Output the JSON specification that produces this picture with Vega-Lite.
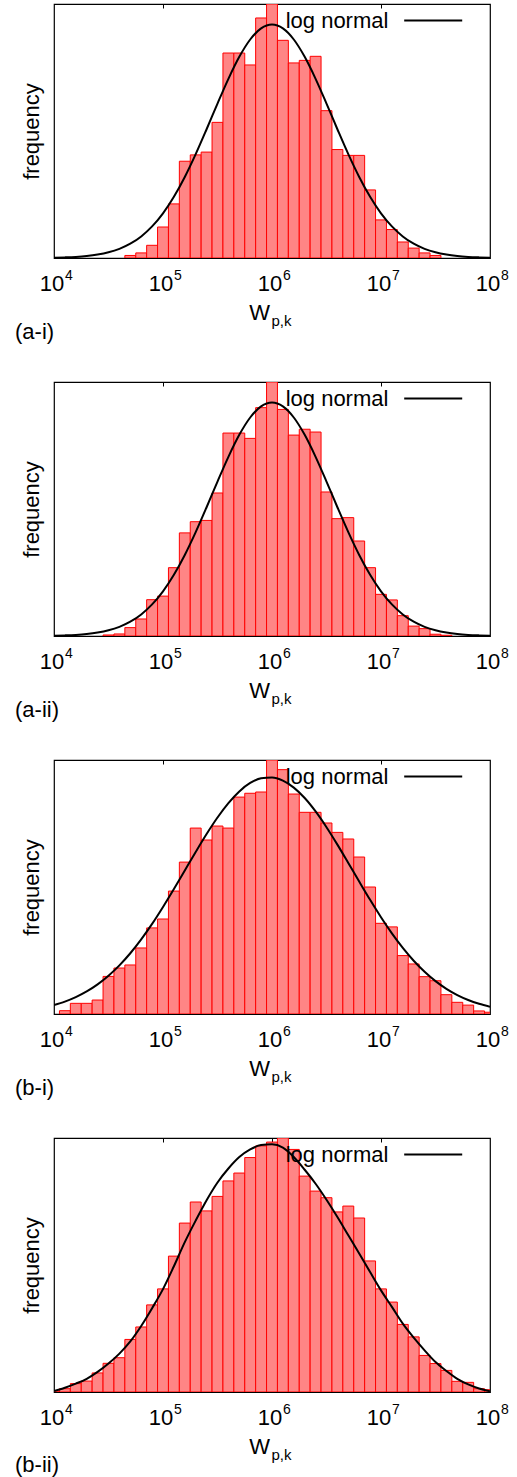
{
  "$schema": "https://vega.github.io/schema/vega-lite/v6.json",
  "padding": {"left": 14, "top": 2, "right": 0, "bottom": 0},
  "spacing": 36,
  "datasets": {
    "bars": [
      {"panel":"a-i","lo":4.65,"hi":4.75,"f":1.0},{"panel":"a-i","lo":4.75,"hi":4.85,"f":2.0},{"panel":"a-i","lo":4.85,"hi":4.95,"f":5.0},{"panel":"a-i","lo":4.95,"hi":5.05,"f":12.2},{"panel":"a-i","lo":5.05,"hi":5.15,"f":21.3},{"panel":"a-i","lo":5.15,"hi":5.25,"f":38.1},{"panel":"a-i","lo":5.25,"hi":5.35,"f":40.6},{"panel":"a-i","lo":5.35,"hi":5.45,"f":41.7},{"panel":"a-i","lo":5.45,"hi":5.55,"f":53.4},{"panel":"a-i","lo":5.55,"hi":5.65,"f":80.7},{"panel":"a-i","lo":5.65,"hi":5.75,"f":80.7},{"panel":"a-i","lo":5.75,"hi":5.85,"f":76.0},{"panel":"a-i","lo":5.85,"hi":5.95,"f":94.5},{"panel":"a-i","lo":5.95,"hi":6.05,"f":100},{"panel":"a-i","lo":6.05,"hi":6.15,"f":85.7},{"panel":"a-i","lo":6.15,"hi":6.25,"f":76.8},{"panel":"a-i","lo":6.25,"hi":6.35,"f":77.8},{"panel":"a-i","lo":6.35,"hi":6.45,"f":79.4},{"panel":"a-i","lo":6.45,"hi":6.55,"f":58.0},{"panel":"a-i","lo":6.55,"hi":6.65,"f":42.7},{"panel":"a-i","lo":6.65,"hi":6.75,"f":40.4},{"panel":"a-i","lo":6.75,"hi":6.85,"f":40.4},{"panel":"a-i","lo":6.85,"hi":6.95,"f":26.8},{"panel":"a-i","lo":6.95,"hi":7.05,"f":15.0},{"panel":"a-i","lo":7.05,"hi":7.15,"f":11.2},{"panel":"a-i","lo":7.15,"hi":7.25,"f":6.3},{"panel":"a-i","lo":7.25,"hi":7.35,"f":3.9},{"panel":"a-i","lo":7.35,"hi":7.45,"f":2.0},{"panel":"a-i","lo":7.45,"hi":7.55,"f":1.0},
      {"panel":"a-ii","lo":4.45,"hi":4.55,"f":0.4},{"panel":"a-ii","lo":4.55,"hi":4.65,"f":0.8},{"panel":"a-ii","lo":4.65,"hi":4.75,"f":3.3},{"panel":"a-ii","lo":4.75,"hi":4.85,"f":6.7},{"panel":"a-ii","lo":4.85,"hi":4.95,"f":14.3},{"panel":"a-ii","lo":4.95,"hi":5.05,"f":15.7},{"panel":"a-ii","lo":5.05,"hi":5.15,"f":26.9},{"panel":"a-ii","lo":5.15,"hi":5.25,"f":40.6},{"panel":"a-ii","lo":5.25,"hi":5.35,"f":45.0},{"panel":"a-ii","lo":5.35,"hi":5.45,"f":45.5},{"panel":"a-ii","lo":5.45,"hi":5.55,"f":56.3},{"panel":"a-ii","lo":5.55,"hi":5.65,"f":79.9},{"panel":"a-ii","lo":5.65,"hi":5.75,"f":79.9},{"panel":"a-ii","lo":5.75,"hi":5.85,"f":77.8},{"panel":"a-ii","lo":5.85,"hi":5.95,"f":89.9},{"panel":"a-ii","lo":5.95,"hi":6.05,"f":100},{"panel":"a-ii","lo":6.05,"hi":6.15,"f":89.2},{"panel":"a-ii","lo":6.15,"hi":6.25,"f":79.1},{"panel":"a-ii","lo":6.25,"hi":6.35,"f":81.4},{"panel":"a-ii","lo":6.35,"hi":6.45,"f":80.3},{"panel":"a-ii","lo":6.45,"hi":6.55,"f":56.7},{"panel":"a-ii","lo":6.55,"hi":6.65,"f":46.2},{"panel":"a-ii","lo":6.65,"hi":6.75,"f":46.6},{"panel":"a-ii","lo":6.75,"hi":6.85,"f":37.4},{"panel":"a-ii","lo":6.85,"hi":6.95,"f":26.9},{"panel":"a-ii","lo":6.95,"hi":7.05,"f":16.4},{"panel":"a-ii","lo":7.05,"hi":7.15,"f":14.2},{"panel":"a-ii","lo":7.15,"hi":7.25,"f":8.0},{"panel":"a-ii","lo":7.25,"hi":7.35,"f":3.9},{"panel":"a-ii","lo":7.35,"hi":7.45,"f":2.9},{"panel":"a-ii","lo":7.45,"hi":7.55,"f":0.7},{"panel":"a-ii","lo":7.55,"hi":7.65,"f":0.3},
      {"panel":"b-i","lo":4.05,"hi":4.15,"f":1.3},{"panel":"b-i","lo":4.15,"hi":4.25,"f":4.2},{"panel":"b-i","lo":4.25,"hi":4.35,"f":4.2},{"panel":"b-i","lo":4.35,"hi":4.45,"f":5.5},{"panel":"b-i","lo":4.45,"hi":4.55,"f":14.8},{"panel":"b-i","lo":4.55,"hi":4.65,"f":18.1},{"panel":"b-i","lo":4.65,"hi":4.75,"f":19.3},{"panel":"b-i","lo":4.75,"hi":4.85,"f":26.0},{"panel":"b-i","lo":4.85,"hi":4.95,"f":33.9},{"panel":"b-i","lo":4.95,"hi":5.05,"f":37.4},{"panel":"b-i","lo":5.05,"hi":5.15,"f":48.4},{"panel":"b-i","lo":5.15,"hi":5.25,"f":59.8},{"panel":"b-i","lo":5.25,"hi":5.35,"f":73.2},{"panel":"b-i","lo":5.35,"hi":5.45,"f":68.5},{"panel":"b-i","lo":5.45,"hi":5.55,"f":74.0},{"panel":"b-i","lo":5.55,"hi":5.65,"f":73.2},{"panel":"b-i","lo":5.65,"hi":5.75,"f":85.4},{"panel":"b-i","lo":5.75,"hi":5.85,"f":86.9},{"panel":"b-i","lo":5.85,"hi":5.95,"f":87.4},{"panel":"b-i","lo":5.95,"hi":6.05,"f":100},{"panel":"b-i","lo":6.05,"hi":6.15,"f":96.2},{"panel":"b-i","lo":6.15,"hi":6.25,"f":86.6},{"panel":"b-i","lo":6.25,"hi":6.35,"f":79.4},{"panel":"b-i","lo":6.35,"hi":6.45,"f":79.4},{"panel":"b-i","lo":6.45,"hi":6.55,"f":75.2},{"panel":"b-i","lo":6.55,"hi":6.65,"f":71.5},{"panel":"b-i","lo":6.65,"hi":6.75,"f":68.9},{"panel":"b-i","lo":6.75,"hi":6.85,"f":61.8},{"panel":"b-i","lo":6.85,"hi":6.95,"f":50.0},{"panel":"b-i","lo":6.95,"hi":7.05,"f":35.7},{"panel":"b-i","lo":7.05,"hi":7.15,"f":34.3},{"panel":"b-i","lo":7.15,"hi":7.25,"f":23.0},{"panel":"b-i","lo":7.25,"hi":7.35,"f":19.7},{"panel":"b-i","lo":7.35,"hi":7.45,"f":14.7},{"panel":"b-i","lo":7.45,"hi":7.55,"f":13.1},{"panel":"b-i","lo":7.55,"hi":7.65,"f":7.6},{"panel":"b-i","lo":7.65,"hi":7.75,"f":4.6},{"panel":"b-i","lo":7.75,"hi":7.85,"f":3.5},{"panel":"b-i","lo":7.85,"hi":7.95,"f":1.2},{"panel":"b-i","lo":7.95,"hi":8.05,"f":0.7},
      {"panel":"b-ii","lo":3.95,"hi":4.05,"f":0.4},{"panel":"b-ii","lo":4.05,"hi":4.15,"f":1.3},{"panel":"b-ii","lo":4.15,"hi":4.25,"f":3.3},{"panel":"b-ii","lo":4.25,"hi":4.35,"f":4.3},{"panel":"b-ii","lo":4.35,"hi":4.45,"f":7.5},{"panel":"b-ii","lo":4.45,"hi":4.55,"f":11.3},{"panel":"b-ii","lo":4.55,"hi":4.65,"f":13.5},{"panel":"b-ii","lo":4.65,"hi":4.75,"f":20.7},{"panel":"b-ii","lo":4.75,"hi":4.85,"f":25.6},{"panel":"b-ii","lo":4.85,"hi":4.95,"f":34.3},{"panel":"b-ii","lo":4.95,"hi":5.05,"f":40.6},{"panel":"b-ii","lo":5.05,"hi":5.15,"f":53.5},{"panel":"b-ii","lo":5.15,"hi":5.25,"f":66.5},{"panel":"b-ii","lo":5.25,"hi":5.35,"f":74.8},{"panel":"b-ii","lo":5.35,"hi":5.45,"f":71.3},{"panel":"b-ii","lo":5.45,"hi":5.55,"f":77.0},{"panel":"b-ii","lo":5.55,"hi":5.65,"f":83.1},{"panel":"b-ii","lo":5.65,"hi":5.75,"f":86.2},{"panel":"b-ii","lo":5.75,"hi":5.85,"f":92.3},{"panel":"b-ii","lo":5.85,"hi":5.95,"f":96.9},{"panel":"b-ii","lo":5.95,"hi":6.05,"f":98.4},{"panel":"b-ii","lo":6.05,"hi":6.15,"f":100},{"panel":"b-ii","lo":6.15,"hi":6.25,"f":95.5},{"panel":"b-ii","lo":6.25,"hi":6.35,"f":85.0},{"panel":"b-ii","lo":6.35,"hi":6.45,"f":79.1},{"panel":"b-ii","lo":6.45,"hi":6.55,"f":76.5},{"panel":"b-ii","lo":6.55,"hi":6.65,"f":70.9},{"panel":"b-ii","lo":6.65,"hi":6.75,"f":73.2},{"panel":"b-ii","lo":6.75,"hi":6.85,"f":68.5},{"panel":"b-ii","lo":6.85,"hi":6.95,"f":51.6},{"panel":"b-ii","lo":6.95,"hi":7.05,"f":40.6},{"panel":"b-ii","lo":7.05,"hi":7.15,"f":35.4},{"panel":"b-ii","lo":7.15,"hi":7.25,"f":26.6},{"panel":"b-ii","lo":7.25,"hi":7.35,"f":21.7},{"panel":"b-ii","lo":7.35,"hi":7.45,"f":14.4},{"panel":"b-ii","lo":7.45,"hi":7.55,"f":11.2},{"panel":"b-ii","lo":7.55,"hi":7.65,"f":8.5},{"panel":"b-ii","lo":7.65,"hi":7.75,"f":4.2},{"panel":"b-ii","lo":7.75,"hi":7.85,"f":3.8},{"panel":"b-ii","lo":7.85,"hi":7.95,"f":1.3},{"panel":"b-ii","lo":7.95,"hi":8.05,"f":0.9}
    ],
    "curve": [
      {"panel":"a-i","x":4.0,"f":0.12},{"panel":"a-i","x":4.1,"f":0.24},{"panel":"a-i","x":4.2,"f":0.43},{"panel":"a-i","x":4.3,"f":0.77},{"panel":"a-i","x":4.4,"f":1.34},{"panel":"a-i","x":4.5,"f":2.23},{"panel":"a-i","x":4.6,"f":3.6},{"panel":"a-i","x":4.7,"f":5.62},{"panel":"a-i","x":4.8,"f":8.5},{"panel":"a-i","x":4.9,"f":12.44},{"panel":"a-i","x":5.0,"f":17.6},{"panel":"a-i","x":5.1,"f":24.1},{"panel":"a-i","x":5.2,"f":31.91},{"panel":"a-i","x":5.3,"f":40.89},{"panel":"a-i","x":5.4,"f":50.69},{"panel":"a-i","x":5.5,"f":60.79},{"panel":"a-i","x":5.6,"f":70.54},{"panel":"a-i","x":5.7,"f":79.2},{"panel":"a-i","x":5.8,"f":86.02},{"panel":"a-i","x":5.9,"f":90.39},{"panel":"a-i","x":6.0,"f":91.9},{"panel":"a-i","x":6.1,"f":90.39},{"panel":"a-i","x":6.2,"f":86.02},{"panel":"a-i","x":6.3,"f":79.2},{"panel":"a-i","x":6.4,"f":70.54},{"panel":"a-i","x":6.5,"f":60.79},{"panel":"a-i","x":6.6,"f":50.69},{"panel":"a-i","x":6.7,"f":40.89},{"panel":"a-i","x":6.8,"f":31.91},{"panel":"a-i","x":6.9,"f":24.1},{"panel":"a-i","x":7.0,"f":17.6},{"panel":"a-i","x":7.1,"f":12.44},{"panel":"a-i","x":7.2,"f":8.5},{"panel":"a-i","x":7.3,"f":5.62},{"panel":"a-i","x":7.4,"f":3.6},{"panel":"a-i","x":7.5,"f":2.23},{"panel":"a-i","x":7.6,"f":1.34},{"panel":"a-i","x":7.7,"f":0.77},{"panel":"a-i","x":7.8,"f":0.43},{"panel":"a-i","x":7.9,"f":0.24},{"panel":"a-i","x":8.0,"f":0.12},
      {"panel":"a-ii","x":4.0,"f":0.12},{"panel":"a-ii","x":4.1,"f":0.24},{"panel":"a-ii","x":4.2,"f":0.43},{"panel":"a-ii","x":4.3,"f":0.77},{"panel":"a-ii","x":4.4,"f":1.34},{"panel":"a-ii","x":4.5,"f":2.23},{"panel":"a-ii","x":4.6,"f":3.6},{"panel":"a-ii","x":4.7,"f":5.62},{"panel":"a-ii","x":4.8,"f":8.5},{"panel":"a-ii","x":4.9,"f":12.44},{"panel":"a-ii","x":5.0,"f":17.6},{"panel":"a-ii","x":5.1,"f":24.1},{"panel":"a-ii","x":5.2,"f":31.91},{"panel":"a-ii","x":5.3,"f":40.89},{"panel":"a-ii","x":5.4,"f":50.69},{"panel":"a-ii","x":5.5,"f":60.79},{"panel":"a-ii","x":5.6,"f":70.54},{"panel":"a-ii","x":5.7,"f":79.2},{"panel":"a-ii","x":5.8,"f":86.02},{"panel":"a-ii","x":5.9,"f":90.39},{"panel":"a-ii","x":6.0,"f":91.9},{"panel":"a-ii","x":6.1,"f":90.39},{"panel":"a-ii","x":6.2,"f":86.02},{"panel":"a-ii","x":6.3,"f":79.2},{"panel":"a-ii","x":6.4,"f":70.54},{"panel":"a-ii","x":6.5,"f":60.79},{"panel":"a-ii","x":6.6,"f":50.69},{"panel":"a-ii","x":6.7,"f":40.89},{"panel":"a-ii","x":6.8,"f":31.91},{"panel":"a-ii","x":6.9,"f":24.1},{"panel":"a-ii","x":7.0,"f":17.6},{"panel":"a-ii","x":7.1,"f":12.44},{"panel":"a-ii","x":7.2,"f":8.5},{"panel":"a-ii","x":7.3,"f":5.62},{"panel":"a-ii","x":7.4,"f":3.6},{"panel":"a-ii","x":7.5,"f":2.23},{"panel":"a-ii","x":7.6,"f":1.34},{"panel":"a-ii","x":7.7,"f":0.77},{"panel":"a-ii","x":7.8,"f":0.43},{"panel":"a-ii","x":7.9,"f":0.24},{"panel":"a-ii","x":8.0,"f":0.12},
      {"panel":"b-i","x":4.0,"f":3.54},{"panel":"b-i","x":4.1,"f":4.88},{"panel":"b-i","x":4.2,"f":6.64},{"panel":"b-i","x":4.3,"f":8.87},{"panel":"b-i","x":4.4,"f":11.66},{"panel":"b-i","x":4.5,"f":15.07},{"panel":"b-i","x":4.6,"f":19.14},{"panel":"b-i","x":4.7,"f":23.92},{"panel":"b-i","x":4.8,"f":29.39},{"panel":"b-i","x":4.9,"f":35.49},{"panel":"b-i","x":5.0,"f":42.16},{"panel":"b-i","x":5.1,"f":49.23},{"panel":"b-i","x":5.2,"f":56.53},{"panel":"b-i","x":5.3,"f":63.82},{"panel":"b-i","x":5.4,"f":70.87},{"panel":"b-i","x":5.5,"f":77.36},{"panel":"b-i","x":5.6,"f":83.03},{"panel":"b-i","x":5.7,"f":87.64},{"panel":"b-i","x":5.8,"f":90.96},{"panel":"b-i","x":5.9,"f":92.82},{"panel":"b-i","x":6.0,"f":93.13},{"panel":"b-i","x":6.1,"f":91.88},{"panel":"b-i","x":6.2,"f":89.13},{"panel":"b-i","x":6.3,"f":85.03},{"panel":"b-i","x":6.4,"f":79.74},{"panel":"b-i","x":6.5,"f":73.54},{"panel":"b-i","x":6.6,"f":66.69},{"panel":"b-i","x":6.7,"f":59.46},{"panel":"b-i","x":6.8,"f":52.14},{"panel":"b-i","x":6.9,"f":44.94},{"panel":"b-i","x":7.0,"f":38.09},{"panel":"b-i","x":7.1,"f":31.75},{"panel":"b-i","x":7.2,"f":26.02},{"panel":"b-i","x":7.3,"f":20.97},{"panel":"b-i","x":7.4,"f":16.62},{"panel":"b-i","x":7.5,"f":12.95},{"panel":"b-i","x":7.6,"f":9.92},{"panel":"b-i","x":7.7,"f":7.47},{"panel":"b-i","x":7.8,"f":5.53},{"panel":"b-i","x":7.9,"f":4.03},{"panel":"b-i","x":8.0,"f":2.89},
      {"panel":"b-ii","x":4.0,"f":0.4},{"panel":"b-ii","x":4.1,"f":1.7},{"panel":"b-ii","x":4.2,"f":3.3},{"panel":"b-ii","x":4.3,"f":5.2},{"panel":"b-ii","x":4.4,"f":7.9},{"panel":"b-ii","x":4.5,"f":11.2},{"panel":"b-ii","x":4.6,"f":15.1},{"panel":"b-ii","x":4.7,"f":19.9},{"panel":"b-ii","x":4.8,"f":26.0},{"panel":"b-ii","x":4.9,"f":33.0},{"panel":"b-ii","x":5.0,"f":40.5},{"panel":"b-ii","x":5.1,"f":49.5},{"panel":"b-ii","x":5.2,"f":59.0},{"panel":"b-ii","x":5.3,"f":67.5},{"panel":"b-ii","x":5.4,"f":75.5},{"panel":"b-ii","x":5.5,"f":82.5},{"panel":"b-ii","x":5.6,"f":88.0},{"panel":"b-ii","x":5.7,"f":92.5},{"panel":"b-ii","x":5.8,"f":95.5},{"panel":"b-ii","x":5.9,"f":97.2},{"panel":"b-ii","x":6.0,"f":97.5},{"panel":"b-ii","x":6.1,"f":96.2},{"panel":"b-ii","x":6.2,"f":92.5},{"panel":"b-ii","x":6.3,"f":87.5},{"panel":"b-ii","x":6.4,"f":82.0},{"panel":"b-ii","x":6.5,"f":75.7},{"panel":"b-ii","x":6.6,"f":68.9},{"panel":"b-ii","x":6.7,"f":61.7},{"panel":"b-ii","x":6.8,"f":54.5},{"panel":"b-ii","x":6.9,"f":47.2},{"panel":"b-ii","x":7.0,"f":40.0},{"panel":"b-ii","x":7.1,"f":33.5},{"panel":"b-ii","x":7.2,"f":26.9},{"panel":"b-ii","x":7.3,"f":21.4},{"panel":"b-ii","x":7.4,"f":16.4},{"panel":"b-ii","x":7.5,"f":11.8},{"panel":"b-ii","x":7.6,"f":8.3},{"panel":"b-ii","x":7.7,"f":5.2},{"panel":"b-ii","x":7.8,"f":3.0},{"panel":"b-ii","x":7.9,"f":1.4},{"panel":"b-ii","x":8.0,"f":0.3}
    ]
  },
  "vconcat": [
    {
      "width": 436, "height": 254,
      "title": {"text": "(a-i)", "orient": "bottom", "anchor": "start", "frame": "group", "dx": -39, "offset": -6},
      "layer": [
        {"data": {"name": "bars"}, "transform": [{"filter": "datum.panel === 'a-i'"}],
         "mark": {"type": "bar", "fill": "#ff8585", "stroke": "#ff0000", "strokeWidth": 1, "clip": true},
         "encoding": {
           "x": {"field": "lo", "type": "quantitative", "scale": {"domain": [4, 8], "nice": false, "zero": false},
                 "axis": {"orient": "bottom", "values": [4,5,6,7,8], "labelExpr": "'10'", "labelFontSize": 22, "labelPadding": 15, "labelOffset": -2.5, "labelBaseline": "top", "labelFlush": false, "labelOverlap": false, "title": "W", "titleFontSize": 22, "titleX": 205, "titleY": 61.5, "titleAlign": "center", "titleBaseline": "alphabetic"}},
           "x2": {"field": "hi"},
           "y": {"field": "f", "type": "quantitative", "scale": {"domain": [0, 100], "nice": false}, "axis": {"title": "frequency", "labels": false, "titleFontSize": 22, "titlePadding": 11}},
           "y2": {"datum": 0}
         }},
        {"data": {"name": "curve"}, "transform": [{"filter": "datum.panel === 'a-i'"}],
         "mark": {"type": "line", "interpolate": "monotone", "strokeWidth": 2, "clip": true},
         "encoding": {
           "x": {"field": "x", "type": "quantitative", "scale": {"domain": [4, 8], "nice": false, "zero": false},
                 "axis": {"orient": "bottom", "values": [4,5,6,7,8], "format": "d", "labelFontSize": 14, "labelPadding": 10, "labelOffset": 14.5, "labelBaseline": "top", "labelFlush": false, "labelOverlap": false, "title": "p,k", "titleFontSize": 15, "titleX": 227, "titleY": 67, "titleAlign": "center", "titleBaseline": "alphabetic"}},
           "y": {"field": "f", "type": "quantitative", "scale": {"domain": [0, 100], "nice": false}, "axis": {"title": "frequency", "labels": false, "titleFontSize": 22, "titlePadding": 11}},
           "stroke": {"datum": "log normal", "type": "nominal", "scale": {"range": ["#000000"]},
                      "legend": {"title": null, "orient": "none", "legendX": 368.2, "legendY": 5.5, "padding": 0, "symbolType": "M-5,0H5", "symbolSize": 134.6, "symbolStrokeWidth": 2, "symbolStrokeColor": "#000", "symbolFillColor": "transparent", "labelAlign": "right", "labelOffset": -55.8, "labelFontSize": 22, "labelFont": "Liberation Sans", "labelColor": "#000", "labelBaseline": "middle"}}
         }},
        {"data": {"name": "curve"}, "transform": [{"filter": "datum.panel === 'a-i'"}],
         "mark": {"type": "rule", "opacity": 0},
         "encoding": {
           "x": {"field": "x", "type": "quantitative", "scale": {"domain": [4, 8], "nice": false, "zero": false},
                 "axis": {"orient": "top", "values": [5,6,7], "labels": false, "ticks": true, "tickSize": -4, "tickColor": "#000", "tickWidth": 1, "title": null}}
         }}
      ],
      "resolve": {"axis": {"x": "independent"}}
    },
    {
      "width": 436, "height": 254,
      "title": {"text": "(a-ii)", "orient": "bottom", "anchor": "start", "frame": "group", "dx": -39, "offset": -6},
      "layer": [
        {"data": {"name": "bars"}, "transform": [{"filter": "datum.panel === 'a-ii'"}],
         "mark": {"type": "bar", "fill": "#ff8585", "stroke": "#ff0000", "strokeWidth": 1, "clip": true},
         "encoding": {
           "x": {"field": "lo", "type": "quantitative", "scale": {"domain": [4, 8], "nice": false, "zero": false},
                 "axis": {"orient": "bottom", "values": [4,5,6,7,8], "labelExpr": "'10'", "labelFontSize": 22, "labelPadding": 15, "labelOffset": -2.5, "labelBaseline": "top", "labelFlush": false, "labelOverlap": false, "title": "W", "titleFontSize": 22, "titleX": 205, "titleY": 61.5, "titleAlign": "center", "titleBaseline": "alphabetic"}},
           "x2": {"field": "hi"},
           "y": {"field": "f", "type": "quantitative", "scale": {"domain": [0, 100], "nice": false}, "axis": {"title": "frequency", "labels": false, "titleFontSize": 22, "titlePadding": 11}},
           "y2": {"datum": 0}
         }},
        {"data": {"name": "curve"}, "transform": [{"filter": "datum.panel === 'a-ii'"}],
         "mark": {"type": "line", "interpolate": "monotone", "strokeWidth": 2, "clip": true},
         "encoding": {
           "x": {"field": "x", "type": "quantitative", "scale": {"domain": [4, 8], "nice": false, "zero": false},
                 "axis": {"orient": "bottom", "values": [4,5,6,7,8], "format": "d", "labelFontSize": 14, "labelPadding": 10, "labelOffset": 14.5, "labelBaseline": "top", "labelFlush": false, "labelOverlap": false, "title": "p,k", "titleFontSize": 15, "titleX": 227, "titleY": 67, "titleAlign": "center", "titleBaseline": "alphabetic"}},
           "y": {"field": "f", "type": "quantitative", "scale": {"domain": [0, 100], "nice": false}, "axis": {"title": "frequency", "labels": false, "titleFontSize": 22, "titlePadding": 11}},
           "stroke": {"datum": "log normal", "type": "nominal", "scale": {"range": ["#000000"]},
                      "legend": {"title": null, "orient": "none", "legendX": 368.2, "legendY": 5.5, "padding": 0, "symbolType": "M-5,0H5", "symbolSize": 134.6, "symbolStrokeWidth": 2, "symbolStrokeColor": "#000", "symbolFillColor": "transparent", "labelAlign": "right", "labelOffset": -55.8, "labelFontSize": 22, "labelFont": "Liberation Sans", "labelColor": "#000", "labelBaseline": "middle"}}
         }},
        {"data": {"name": "curve"}, "transform": [{"filter": "datum.panel === 'a-ii'"}],
         "mark": {"type": "rule", "opacity": 0},
         "encoding": {
           "x": {"field": "x", "type": "quantitative", "scale": {"domain": [4, 8], "nice": false, "zero": false},
                 "axis": {"orient": "top", "values": [5,6,7], "labels": false, "ticks": true, "tickSize": -4, "tickColor": "#000", "tickWidth": 1, "title": null}}
         }}
      ],
      "resolve": {"axis": {"x": "independent"}}
    },
    {
      "width": 436, "height": 254,
      "title": {"text": "(b-i)", "orient": "bottom", "anchor": "start", "frame": "group", "dx": -39, "offset": -6},
      "layer": [
        {"data": {"name": "bars"}, "transform": [{"filter": "datum.panel === 'b-i'"}],
         "mark": {"type": "bar", "fill": "#ff8585", "stroke": "#ff0000", "strokeWidth": 1, "clip": true},
         "encoding": {
           "x": {"field": "lo", "type": "quantitative", "scale": {"domain": [4, 8], "nice": false, "zero": false},
                 "axis": {"orient": "bottom", "values": [4,5,6,7,8], "labelExpr": "'10'", "labelFontSize": 22, "labelPadding": 15, "labelOffset": -2.5, "labelBaseline": "top", "labelFlush": false, "labelOverlap": false, "title": "W", "titleFontSize": 22, "titleX": 205, "titleY": 61.5, "titleAlign": "center", "titleBaseline": "alphabetic"}},
           "x2": {"field": "hi"},
           "y": {"field": "f", "type": "quantitative", "scale": {"domain": [0, 100], "nice": false}, "axis": {"title": "frequency", "labels": false, "titleFontSize": 22, "titlePadding": 11}},
           "y2": {"datum": 0}
         }},
        {"data": {"name": "curve"}, "transform": [{"filter": "datum.panel === 'b-i'"}],
         "mark": {"type": "line", "interpolate": "monotone", "strokeWidth": 2, "clip": true},
         "encoding": {
           "x": {"field": "x", "type": "quantitative", "scale": {"domain": [4, 8], "nice": false, "zero": false},
                 "axis": {"orient": "bottom", "values": [4,5,6,7,8], "format": "d", "labelFontSize": 14, "labelPadding": 10, "labelOffset": 14.5, "labelBaseline": "top", "labelFlush": false, "labelOverlap": false, "title": "p,k", "titleFontSize": 15, "titleX": 227, "titleY": 67, "titleAlign": "center", "titleBaseline": "alphabetic"}},
           "y": {"field": "f", "type": "quantitative", "scale": {"domain": [0, 100], "nice": false}, "axis": {"title": "frequency", "labels": false, "titleFontSize": 22, "titlePadding": 11}},
           "stroke": {"datum": "log normal", "type": "nominal", "scale": {"range": ["#000000"]},
                      "legend": {"title": null, "orient": "none", "legendX": 368.2, "legendY": 5.5, "padding": 0, "symbolType": "M-5,0H5", "symbolSize": 134.6, "symbolStrokeWidth": 2, "symbolStrokeColor": "#000", "symbolFillColor": "transparent", "labelAlign": "right", "labelOffset": -55.8, "labelFontSize": 22, "labelFont": "Liberation Sans", "labelColor": "#000", "labelBaseline": "middle"}}
         }},
        {"data": {"name": "curve"}, "transform": [{"filter": "datum.panel === 'b-i'"}],
         "mark": {"type": "rule", "opacity": 0},
         "encoding": {
           "x": {"field": "x", "type": "quantitative", "scale": {"domain": [4, 8], "nice": false, "zero": false},
                 "axis": {"orient": "top", "values": [5,6,7], "labels": false, "ticks": true, "tickSize": -4, "tickColor": "#000", "tickWidth": 1, "title": null}}
         }}
      ],
      "resolve": {"axis": {"x": "independent"}}
    },
    {
      "width": 436, "height": 254,
      "title": {"text": "(b-ii)", "orient": "bottom", "anchor": "start", "frame": "group", "dx": -39, "offset": -7},
      "layer": [
        {"data": {"name": "bars"}, "transform": [{"filter": "datum.panel === 'b-ii'"}],
         "mark": {"type": "bar", "fill": "#ff8585", "stroke": "#ff0000", "strokeWidth": 1, "clip": true},
         "encoding": {
           "x": {"field": "lo", "type": "quantitative", "scale": {"domain": [4, 8], "nice": false, "zero": false},
                 "axis": {"orient": "bottom", "values": [4,5,6,7,8], "labelExpr": "'10'", "labelFontSize": 22, "labelPadding": 15, "labelOffset": -2.5, "labelBaseline": "top", "labelFlush": false, "labelOverlap": false, "title": "W", "titleFontSize": 22, "titleX": 205, "titleY": 61.5, "titleAlign": "center", "titleBaseline": "alphabetic"}},
           "x2": {"field": "hi"},
           "y": {"field": "f", "type": "quantitative", "scale": {"domain": [0, 100], "nice": false}, "axis": {"title": "frequency", "labels": false, "titleFontSize": 22, "titlePadding": 11}},
           "y2": {"datum": 0}
         }},
        {"data": {"name": "curve"}, "transform": [{"filter": "datum.panel === 'b-ii'"}],
         "mark": {"type": "line", "interpolate": "monotone", "strokeWidth": 2, "clip": true},
         "encoding": {
           "x": {"field": "x", "type": "quantitative", "scale": {"domain": [4, 8], "nice": false, "zero": false},
                 "axis": {"orient": "bottom", "values": [4,5,6,7,8], "format": "d", "labelFontSize": 14, "labelPadding": 10, "labelOffset": 14.5, "labelBaseline": "top", "labelFlush": false, "labelOverlap": false, "title": "p,k", "titleFontSize": 15, "titleX": 227, "titleY": 67, "titleAlign": "center", "titleBaseline": "alphabetic"}},
           "y": {"field": "f", "type": "quantitative", "scale": {"domain": [0, 100], "nice": false}, "axis": {"title": "frequency", "labels": false, "titleFontSize": 22, "titlePadding": 11}},
           "stroke": {"datum": "log normal", "type": "nominal", "scale": {"range": ["#000000"]},
                      "legend": {"title": null, "orient": "none", "legendX": 368.2, "legendY": 5.5, "padding": 0, "symbolType": "M-5,0H5", "symbolSize": 134.6, "symbolStrokeWidth": 2, "symbolStrokeColor": "#000", "symbolFillColor": "transparent", "labelAlign": "right", "labelOffset": -55.8, "labelFontSize": 22, "labelFont": "Liberation Sans", "labelColor": "#000", "labelBaseline": "middle"}}
         }},
        {"data": {"name": "curve"}, "transform": [{"filter": "datum.panel === 'b-ii'"}],
         "mark": {"type": "rule", "opacity": 0},
         "encoding": {
           "x": {"field": "x", "type": "quantitative", "scale": {"domain": [4, 8], "nice": false, "zero": false},
                 "axis": {"orient": "top", "values": [5,6,7], "labels": false, "ticks": true, "tickSize": -4, "tickColor": "#000", "tickWidth": 1, "title": null}}
         }}
      ],
      "resolve": {"axis": {"x": "independent"}}
    }
  ],
  "resolve": {"scale": {"stroke": "independent"}, "legend": {"stroke": "independent"}},
  "config": {
    "font": "Liberation Sans",
    "background": "#ffffff",
    "view": {"stroke": "#000000", "strokeWidth": 1.2},
    "axis": {"labelFont": "Liberation Sans", "titleFont": "Liberation Sans", "labelColor": "#000", "titleColor": "#000", "titleFontWeight": "normal", "grid": false, "domain": false, "ticks": false},
    "title": {"font": "Liberation Sans", "fontSize": 22, "fontWeight": "normal", "color": "#000"}
  }
}
